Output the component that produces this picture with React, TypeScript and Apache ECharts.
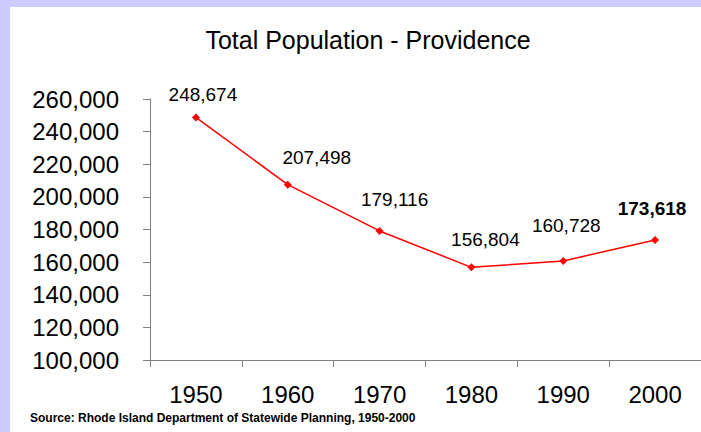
import React, { useEffect, useRef } from "react";
import * as echarts from "echarts";

const years = ["1950", "1960", "1970", "1980", "1990", "2000"];
const population = [248674, 207498, 179116, 156804, 160728, 173618];
const boldLabel = [false, false, false, false, false, true];
const labelOffsets: [number, number][] = [
  [7, -23],
  [29, -27],
  [15, -31],
  [14, -28],
  [3, -35],
  [-3, -31],
];
const yMin = 100000;
const yMax = 260000;
const yStep = 20000;
const titleText = "Total Population - Providence";
const sourceText = "Source: Rhode Island Department of Statewide Planning, 1950-2000";

const FONT = "'Liberation Sans', Arial, sans-serif";

export default function App() {
  const ref = useRef<HTMLDivElement>(null);
  useEffect(() => {
    if (!ref.current) return;
    const chart = echarts.init(ref.current, null, { renderer: "svg" });
    const fmt = (v: number) => v.toLocaleString("en-US");
    chart.setOption({
      animation: false,
      backgroundColor: "#ccccff",
      title: {
        text: titleText,
        left: 363,
        top: 22,
        textAlign: "center",
        textStyle: { fontFamily: FONT, fontSize: 25, fontWeight: "normal", color: "#000" },
      },
      graphic: [
        {
          type: "rect",
          z: -10,
          silent: true,
          shape: { x: 10, y: 7, width: 700, height: 430 },
          style: { fill: "#ffffff" },
        },
        {
          type: "text",
          x: 30,
          y: 418,
          style: {
            text: sourceText,
            font: `bold 12px ${FONT}`,
            fill: "#000",
            textVerticalAlign: "middle",
          },
        },
      ],
      grid: { left: 150, top: 99, width: 554, height: 261, containLabel: false },
      xAxis: {
        type: "category",
        data: years,
        boundaryGap: true,
        axisLine: { show: true, lineStyle: { color: "#808080", width: 1 } },
        axisTick: { show: true, length: 7, inside: false, lineStyle: { color: "#808080" } },
        axisLabel: { fontFamily: FONT, fontSize: 24, color: "#000", margin: 22 },
        splitLine: { show: false },
      },
      yAxis: {
        type: "value",
        min: yMin,
        max: yMax,
        interval: yStep,
        axisLine: { show: true, lineStyle: { color: "#808080", width: 1 } },
        axisTick: { show: true, length: 7, inside: false, lineStyle: { color: "#808080" } },
        axisLabel: {
          fontFamily: FONT,
          fontSize: 24,
          color: "#000",
          margin: 31,
          formatter: (v: number) => fmt(v),
        },
        splitLine: { show: false },
      },
      series: [
        {
          type: "line",
          data: population.map((v, i) => ({
            value: v,
            label: {
              show: true,
              position: "inside",
              offset: labelOffsets[i],
              formatter: fmt(v),
              fontFamily: FONT,
              fontSize: 19,
              fontWeight: boldLabel[i] ? "bold" : "normal",
              color: "#000",
            },
          })),
          symbol: "diamond",
          symbolSize: 8,
          itemStyle: { color: "#ff0000" },
          lineStyle: { color: "#ff0000", width: 1.5 },
        },
      ],
    });
    return () => chart.dispose();
  }, []);
  return (
    <div
      ref={ref}
      style={{ position: "absolute", left: 0, top: 0, width: 701, height: 432 }}
    />
  );
}
